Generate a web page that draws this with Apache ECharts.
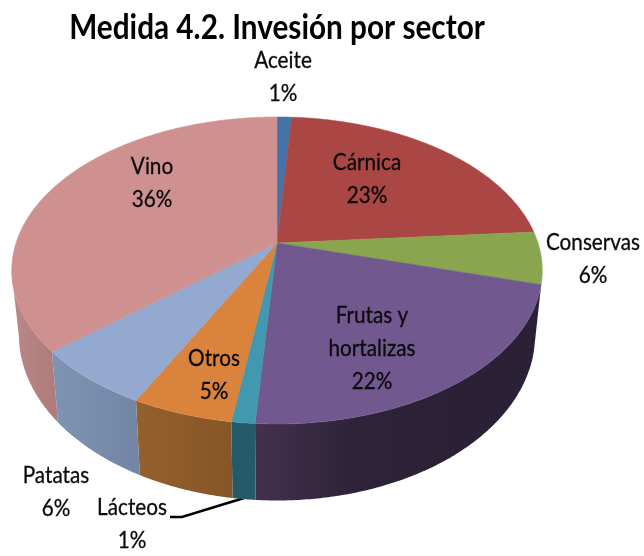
<!DOCTYPE html>
<html>
<head>
<meta charset="utf-8">
<title>Medida 4.2</title>
<script src="https://cdn.jsdelivr.net/npm/echarts@6/dist/echarts.min.js"></script>
<style>
  html, body { margin: 0; padding: 0; background: #fff; }
  #chart { width: 644px; height: 556px; }
</style>
</head>
<body>
<div id="chart"></div>
<script>
// valores, en % (las etiquetas los redondean)
const sectors = ["Aceite", "Cárnica", "Conservas", "Frutas y\nhortalizas", "Lácteos", "Otros", "Patatas", "Vino"];
const shares = [1.05, 22.75, 5.5, 21.8, 1.2, 5.2, 6.3, 36.2];

const topColors = ["#4572a7", "#aa4643", "#89a54e", "#71588f", "#4198af", "#d9833d", "#93a9cf", "#cf9190"];
// colores de la pared de cada sector, de izquierda a derecha
const wallColors = [
  ["#345680", "#345680"], ["#803432", "#803432"], ["#677c3a", "#677c3a"],
  ["#43314f", "#2e2339", "#2b2137", "#2b2137"], ["#255a69", "#255a69"], ["#94602d", "#875527"],
  ["#7f93b2", "#7285a4"], ["#b98888", "#ae7a7a"]
];
// centro del texto de cada etiqueta
const labelPos = [[283, 77], [367, 179], [593, 259], [372, 349], [132, 524], [214, 375], [56, 492], [152, 183]];

// geometria de la tarta en perspectiva
const cx = 277, cy = 243;
const radiusX = 261, radiusY = 148.6, tilt = 0.179;
const depth = 62, depthScaleX = 0.973, depthScaleY = 1.08;
const wallFrom = 105, wallTo = 259;

const total = shares.reduce((a, b) => a + b, 0);
const startAngles = [];
shares.reduce((acc, v, i) => {
  startAngles[i] = acc;
  return acc + v / total * 360;
}, 0);

function topPoint(deg) {
  const t = deg * Math.PI / 180;
  const u = Math.sin(t), v = -Math.cos(t);
  const w = 1 - tilt * v;
  return [cx + radiusX * u / w, cy + radiusY * v / w];
}
function bottomPoint(deg) {
  const p = topPoint(deg);
  return [cx + (p[0] - cx) * depthScaleX, cy + depth + (p[1] - cy) * depthScaleY];
}
function arc(fn, from, to) {
  const pts = [];
  const n = Math.max(2, Math.ceil((to - from) * 2));
  for (let i = 0; i <= n; i++) {
    pts.push(fn(from + (to - from) * i / n));
  }
  return pts;
}

function renderWall(params, api) {
  const i = api.value(0);
  const from = Math.max(startAngles[i], wallFrom);
  const to = Math.min(startAngles[i] + api.value(1) / total * 360, wallTo);
  if (to <= from) return null;
  const points = arc(topPoint, from, to).concat(arc(bottomPoint, from, to).reverse());
  const colors = wallColors[i];
  return {
    type: "polygon",
    shape: { points },
    style: {
      fill: new echarts.graphic.LinearGradient(0, 0, 1, 0,
        colors.map((color, k) => ({ offset: k / (colors.length - 1), color })))
    }
  };
}

function renderTop(params, api) {
  const i = api.value(0);
  const from = startAngles[i];
  const to = from + api.value(1) / total * 360;
  const points = [[cx, cy]].concat(arc(topPoint, from, to));
  return {
    type: "polygon",
    shape: { points },
    style: { fill: topColors[i], stroke: topColors[i], lineWidth: 0.5 }
  };
}

function renderLabel(params, api) {
  const i = api.value(0);
  return {
    type: "text",
    x: labelPos[i][0],
    y: labelPos[i][1],
    scaleX: 0.9,
    style: {
      text: sectors[i] + "\n" + Math.round(api.value(1)) + "%",
      fill: "#0a0a0a",
      stroke: "#0a0a0a",
      lineWidth: 0.3,
      font: "23px Lato, 'Open Sans', sans-serif",
      lineHeight: 33,
      align: "center",
      verticalAlign: "middle"
    }
  };
}

const seriesData = shares.map((v, i) => [i, v]);
const chart = echarts.init(document.getElementById("chart"));
chart.setOption({
  animation: false,
  backgroundColor: "#fff",
  graphic: [{
    type: "text",
    x: 277,
    y: 28,
    scaleX: 0.85,
    style: {
      text: "Medida 4.2. Invesión por sector",
      fill: "#000",
      font: "bold 35px Lato, sans-serif",
      align: "center",
      verticalAlign: "middle"
    }
  }, {
    type: "polyline",
    shape: { points: [[170, 517], [182, 517], [244, 498]] },
    style: { stroke: "#000", lineWidth: 2.5, fill: null }
  }],
  series: [
    { type: "custom", coordinateSystem: "none", data: seriesData, renderItem: renderWall, z: 1, silent: true },
    { type: "custom", coordinateSystem: "none", data: seriesData, renderItem: renderTop, z: 2, silent: true },
    { type: "custom", coordinateSystem: "none", data: seriesData, renderItem: renderLabel, z: 3, silent: true }
  ]
});
</script>
</body>
</html>
